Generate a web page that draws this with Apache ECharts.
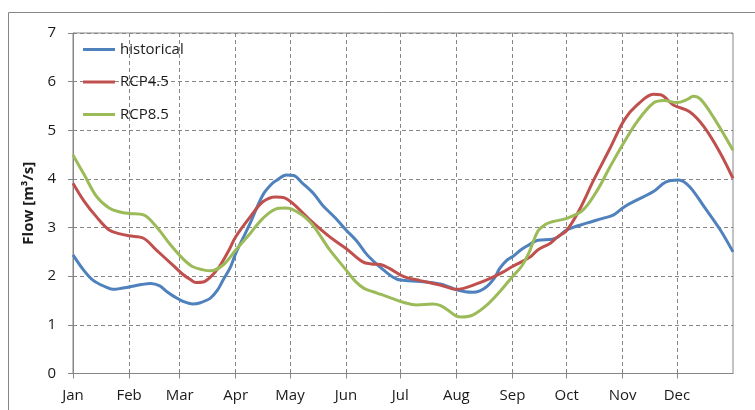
<!DOCTYPE html>
<html>
<head>
<meta charset="utf-8">
<title>Flow regime</title>
<script src="https://cdn.jsdelivr.net/npm/echarts@6/dist/echarts.min.js"></script>
<style>
  html, body { margin: 0; padding: 0; background: #ffffff; }
  #chart { width: 755px; height: 410px; }
</style>
</head>
<body>
<div id="chart"></div>
<script>
// Month tick labels and the day of year on which each month starts
const monthNames = ['Jan', 'Feb', 'Mar', 'Apr', 'May', 'Jun', 'Jul', 'Aug', 'Sep', 'Oct', 'Nov', 'Dec'];
const monthStartDays = [0, 31, 59, 90, 120, 151, 181, 212, 243, 273, 304, 334];

// Mean daily flow [m3/s], sampled by day of year
const historicalDays = [0, 6, 11, 18, 22, 25, 31, 38, 43, 48, 52, 56, 61, 66, 70, 76, 80, 83, 87, 90, 94, 98, 105, 110, 113, 118, 122, 127, 133, 138, 145, 151, 157, 162, 167, 172, 177, 181, 192, 203, 208, 212, 217, 221, 225, 229, 233, 236, 240, 243, 248, 252, 257, 265, 268, 273, 284, 293, 299, 305, 312, 321, 328, 335, 341, 349, 358, 365];
const historicalFlow = [2.44, 2.12, 1.92, 1.78, 1.73, 1.74, 1.78, 1.83, 1.85, 1.80, 1.68, 1.58, 1.48, 1.43, 1.45, 1.55, 1.72, 1.92, 2.18, 2.47, 2.78, 3.09, 3.67, 3.90, 3.98, 4.08, 4.07, 3.91, 3.70, 3.46, 3.20, 2.95, 2.72, 2.47, 2.28, 2.12, 1.98, 1.92, 1.89, 1.84, 1.78, 1.72, 1.68, 1.67, 1.70, 1.79, 1.96, 2.16, 2.33, 2.40, 2.55, 2.64, 2.74, 2.76, 2.80, 2.95, 3.09, 3.19, 3.26, 3.43, 3.57, 3.74, 3.94, 3.98, 3.84, 3.43, 2.95, 2.50];

const rcp45Days = [0, 6, 13, 20, 26, 31, 39, 46, 54, 61, 65, 68, 72, 76, 81, 86, 90, 98, 105, 112, 117, 122, 131, 142, 151, 160, 165, 170, 175, 183, 192, 203, 212, 216, 221, 231, 238, 243, 253, 257, 264, 268, 273, 280, 288, 297, 305, 312, 321, 325, 332, 341, 349, 358, 365];
const rcp45Flow = [3.91, 3.55, 3.22, 2.95, 2.87, 2.83, 2.78, 2.54, 2.27, 2.03, 1.93, 1.87, 1.88, 1.98, 2.20, 2.52, 2.81, 3.22, 3.53, 3.63, 3.61, 3.48, 3.16, 2.81, 2.57, 2.30, 2.25, 2.24, 2.16, 1.99, 1.91, 1.82, 1.73, 1.75, 1.81, 1.96, 2.09, 2.20, 2.40, 2.54, 2.68, 2.81, 2.94, 3.36, 3.98, 4.63, 5.22, 5.52, 5.74, 5.73, 5.52, 5.38, 5.07, 4.53, 4.01];

const rcp85Days = [0, 6, 13, 20, 26, 31, 39, 46, 54, 61, 66, 72, 76, 83, 90, 98, 105, 112, 117, 121, 131, 142, 151, 156, 161, 166, 170, 176, 183, 190, 199, 203, 207, 212, 215, 221, 229, 236, 243, 248, 252, 257, 261, 265, 273, 282, 290, 297, 305, 312, 321, 327, 334, 340, 343, 347, 354, 365];
const rcp85Flow = [4.49, 4.10, 3.64, 3.40, 3.32, 3.29, 3.26, 3.02, 2.64, 2.35, 2.20, 2.13, 2.11, 2.23, 2.54, 2.88, 3.19, 3.38, 3.40, 3.38, 3.12, 2.54, 2.13, 1.90, 1.75, 1.68, 1.63, 1.55, 1.46, 1.41, 1.43, 1.40, 1.31, 1.18, 1.16, 1.20, 1.41, 1.68, 1.99, 2.20, 2.47, 2.92, 3.06, 3.12, 3.19, 3.36, 3.77, 4.25, 4.77, 5.18, 5.56, 5.61, 5.57, 5.64, 5.70, 5.64, 5.28, 4.59];

// Flow axis tick values
const flowTicks = [0, 1, 2, 3, 4, 5, 6, 7];

const pairs = (days, flow) => days.map((d, i) => [d, flow[i]]);

const frameColor = '#868686';
const textColor = '#1a1a1a';
const fontFamily = '"Open Sans", "Noto Sans", sans-serif';

const chart = echarts.init(document.getElementById('chart'), null, { renderer: 'canvas' });

const lineSeries = (name, days, flow, color) => ({
  name: name,
  type: 'line',
  data: pairs(days, flow),
  smooth: 0.35,
  symbol: 'none',
  lineStyle: { color: color, width: 3 },
  itemStyle: { color: color },
  emphasis: { disabled: true },
  animation: false
});

chart.setOption({
  animation: false,
  backgroundColor: '#ffffff',
  textStyle: { fontFamily: fontFamily },
  graphic: [{
    type: 'rect',
    shape: { x: 8.5, y: 12.5, width: 780, height: 420 },
    style: { fill: 'none', stroke: frameColor, lineWidth: 1 },
    silent: true,
    z: -1
  }],
  grid: {
    left: 73, top: 33, right: 22, bottom: 36.5,
    show: true, borderColor: frameColor, borderWidth: 1,
    backgroundColor: 'transparent'
  },
  legend: {
    left: 83, top: 42,
    padding: 0,
    orient: 'vertical',
    icon: 'rect',
    itemWidth: 32, itemHeight: 3, itemGap: 17.5,
    textStyle: { fontSize: 15, lineHeight: 15, color: textColor, fontFamily: fontFamily },
    data: ['historical', 'RCP4.5', 'RCP8.5']
  },
  xAxis: {
    type: 'value',
    min: 0, max: 365,
    axisLine: { show: true, lineStyle: { color: frameColor, width: 1 } },
    axisTick: {
      show: true, inside: false, length: 5,
      customValues: monthStartDays,
      lineStyle: { color: frameColor }
    },
    axisLabel: {
      customValues: monthStartDays,
      formatter: v => monthNames[monthStartDays.indexOf(v)] || '',
      margin: 15, fontSize: 15, color: textColor, fontFamily: fontFamily
    },
    splitLine: {
      show: true,
      lineStyle: { color: frameColor, type: [4, 3], width: 1 }
    }
  },
  yAxis: {
    type: 'value',
    min: flowTicks[0], max: flowTicks[flowTicks.length - 1], interval: 1,
    name: 'Flow [m³/s]',
    nameLocation: 'middle',
    nameGap: 31,
    nameTextStyle: { fontSize: 15, fontWeight: 'bold', color: textColor, fontFamily: fontFamily },
    axisLine: { show: true, lineStyle: { color: frameColor, width: 1 } },
    axisTick: { show: true, inside: false, length: 5, lineStyle: { color: frameColor } },
    axisLabel: { margin: 17, fontSize: 15, color: textColor, fontFamily: fontFamily },
    splitLine: {
      show: true,
      lineStyle: { color: frameColor, type: [4, 3], width: 1 }
    }
  },
  series: [
    lineSeries('historical', historicalDays, historicalFlow, '#4F81BD'),
    lineSeries('RCP4.5', rcp45Days, rcp45Flow, '#C0504D'),
    lineSeries('RCP8.5', rcp85Days, rcp85Flow, '#9BBB59')
  ]
});
</script>
</body>
</html>
